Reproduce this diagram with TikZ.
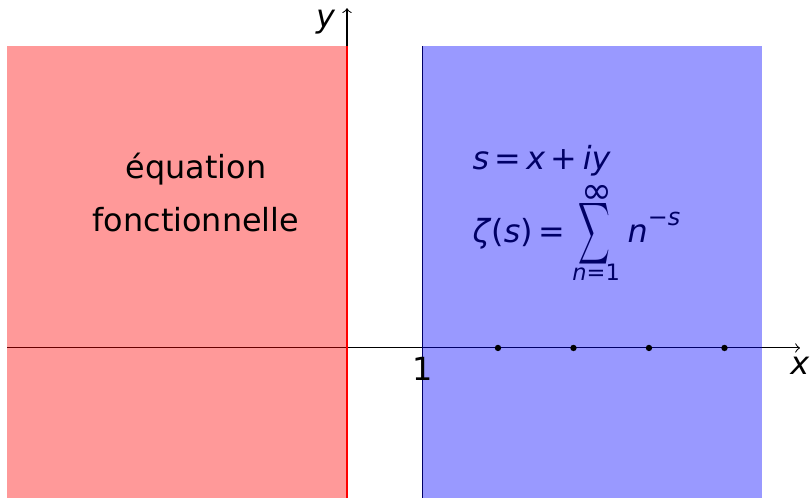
\documentclass[tikz,border=0pt]{standalone}
\usepackage{graphicx}
\usepackage{fontspec}
\setmainfont{DejaVu Sans}
\begin{document}
\begin{tikzpicture}[x=1cm,y=1cm,font=\fontsize{12}{14}\selectfont,
  halfplane/.style={opacity=0.4},
  dotmark/.style={circle,fill=black,inner sep=0pt,minimum size=2.4pt},
  small/.style={font=\fontsize{8.5}{10}\selectfont}]
\useasboundingbox (-4.596,-1.987) rectangle (6.146,4.609);
\clip (-4.596,-1.987) rectangle (6.146,4.609);
% axes
\coordinate (xs) at (-4.5,0);
\coordinate (xe) at (6,0);
\coordinate (ys) at (0,-2);
\coordinate (ye) at (0,4.5);
\coordinate (ls) at (1,-2);
\coordinate (le) at (1,4);
\draw[->] (xs) -- (xe);
\draw[->] (ys) -- (ye);
\draw[line width=0.7pt] (ls) -- (le);
% formulas (under the blue layer)
\node[anchor=base west,inner sep=0pt] (f1) at (1.656,2.36) {\textit{s}\,=\,\textit{x}\,+\,\textit{iy}};
\node[anchor=base west,inner sep=0pt] (f2) at (1.656,1.40) {\textit{ζ}(\textit{s})\,=};
\node[inner sep=0pt] (sum) at (3.27,1.517) {\resizebox{0.42cm}{0.63cm}{$\displaystyle\sum$}};
\node[inner sep=0pt,font=\fontsize{14}{14}\selectfont] (inf) at (3.31,2.03) {∞};
\node[small,anchor=base,inner sep=0pt] (low) at (3.30,0.90) {\textit{n}=1};
\node[anchor=base west,inner sep=0pt] (pw) at (3.71,1.40) {\textit{n}\raisebox{6.3pt}{\fontsize{9}{10}\selectfont −\textit{s}}};
% half planes
\fill[red,halfplane] (-4.5,-2) rectangle (0,4);
\fill[blue,halfplane] (1,-2) rectangle (5.5,4);
\coordinate (rs) at (0,-2);
\coordinate (re) at (0,4);
\draw[red,thick] (rs) -- (re);
% text
\node[anchor=base] (t1) at (-2,2.25) {équation};
\node[anchor=base] (t2) at (-2,1.54) {fonctionnelle};
% dots
\node[dotmark] (d2) at (2,0) {};
\node[dotmark] (d3) at (3,0) {};
\node[dotmark] (d4) at (4,0) {};
\node[dotmark] (d5) at (5,0) {};
% labels
\node[below] (one) at (1,0) {1};
\node[below] (xl) at (xe) {\textit{x}};
\node (yl) at (-0.28,4.32) {\textit{y}};
\end{tikzpicture}
\end{document}
